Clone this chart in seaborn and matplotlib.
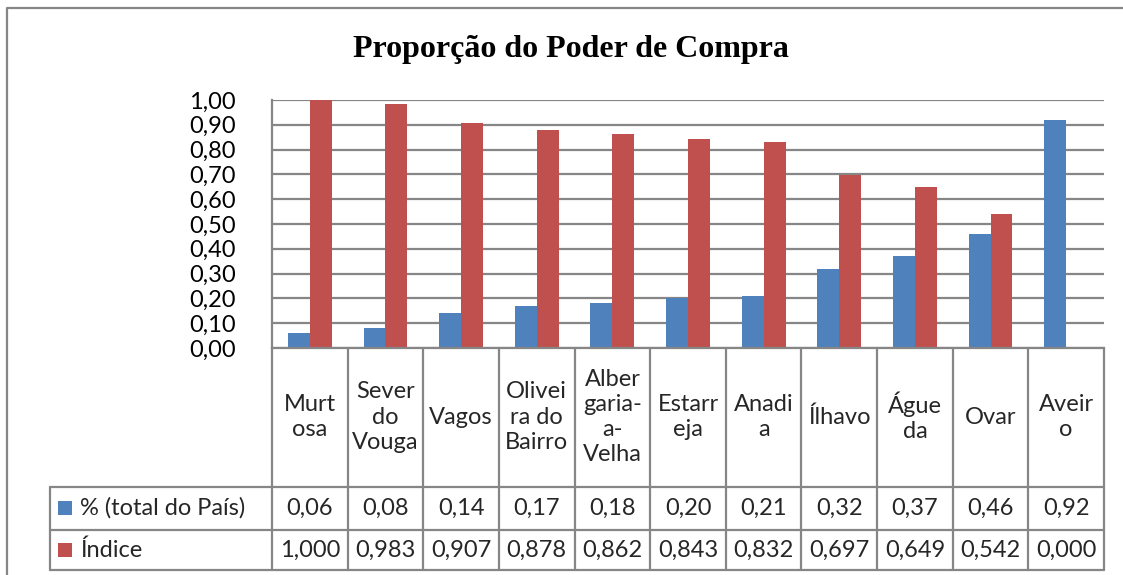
import matplotlib
matplotlib.use('Agg')
import matplotlib.pyplot as plt
import matplotlib.transforms as mtransforms
from matplotlib.lines import Line2D
from matplotlib.patches import Rectangle
import pandas as pd
import seaborn as sns

# -----------------------------
# Data
# -----------------------------
municipios = ["Murt\nosa", "Sever\ndo\nVouga", "Vagos", "Olivei\nra do\nBairro",
              "Alber\ngaria-\na-\nVelha", "Estarr\neja", "Anadi\na", "Ílhavo",
              "Águe\nda", "Ovar", "Aveir\no"]
pct_total = [0.06, 0.08, 0.14, 0.17, 0.18, 0.20, 0.21, 0.32, 0.37, 0.46, 0.92]
indice = [1.000, 0.983, 0.907, 0.878, 0.862, 0.843, 0.832, 0.697, 0.649, 0.542, 0.000]
series_names = ["% (total do País)", "Índice"]
colors = ["#4F81BD", "#C0504D"]
title = "Proporção do Poder de Compra"

df = pd.DataFrame({
    "Município": municipios * 2,
    "Valor": pct_total + indice,
    "Série": [series_names[0]] * len(municipios) + [series_names[1]] * len(municipios),
})

# -----------------------------
# Figure
# -----------------------------
W, H = 1123, 575
FS = 17
sns.set_theme(style="white")
plt.rcParams['font.family'] = ['Lato', 'DejaVu Sans']

def fx(px):
    return px / W

def fy(py):
    return 1 - py / H

fig = plt.figure(figsize=(W / 100, H / 100), dpi=100)
ax = fig.add_axes([fx(272), fy(348), fx(1104) - fx(272), fy(100) - fy(348)])

sns.barplot(data=df, x="Município", y="Valor", hue="Série", palette=colors,
            width=0.58, gap=0, saturation=1, edgecolor="none",
            legend=False, ax=ax)

grey = "#868686"
ax.set_xlim(-0.5, len(municipios) - 0.5)
ax.set_ylim(0, 1.0)
yt = [i / 10 for i in range(11)]
ax.set_yticks(yt)
ax.set_yticklabels([f"{v:.2f}".replace(".", ",") for v in yt], fontsize=FS)
ax.set_xticks([])
ax.set_xlabel("")
ax.set_ylabel("")
ax.tick_params(axis="y", length=0, pad=26, colors="black")
ax.set_axisbelow(True)
ax.yaxis.grid(True, color=grey, linewidth=1.6)
for s in ["top", "right"]:
    ax.spines[s].set_visible(False)
for s in ["left", "bottom"]:
    ax.spines[s].set_color(grey)
    ax.spines[s].set_linewidth(1.6)

# -----------------------------
# Data table below the axis
# -----------------------------
trans = mtransforms.blended_transform_factory(ax.transData, fig.transFigure)
n = len(municipios)

def fig_line(xs, ys, transform):
    fig.add_artist(Line2D(xs, ys, transform=transform, color=grey,
                          linewidth=1.6, clip_on=False))

for i in range(n + 1):
    fig_line([i - 0.5, i - 0.5], [fy(348), fy(570)], trans)
for py in [487, 530, 570]:
    fig_line([fx(50), fx(1104)], [fy(py), fy(py)], fig.transFigure)
fig_line([fx(50), fx(50)], [fy(487), fy(570)], fig.transFigure)

for i, name in enumerate(municipios):
    fig.text(i, fy(417), name, transform=trans, ha="center", va="center",
             fontsize=FS, linespacing=1.25)
    fig.text(i, fy(508), f"{pct_total[i]:.2f}".replace(".", ","), transform=trans,
             ha="center", va="center", fontsize=FS)
    fig.text(i, fy(550), f"{indice[i]:.3f}".replace(".", ","), transform=trans,
             ha="center", va="center", fontsize=FS)

for label, col, py in zip(series_names, colors, [508, 550]):
    fig.add_artist(Rectangle((fx(58), fy(py + 7)), fx(14), fy(py - 7) - fy(py + 7),
                             transform=fig.transFigure, facecolor=col, edgecolor="none"))
    fig.text(fx(80), fy(py), label, ha="left", va="center", fontsize=FS)

# outer chart frame (cropped on right and bottom)
fig_line([fx(7), fx(7), fx(W)], [0, fy(8), fy(8)], fig.transFigure)

fig.text(fx(571), fy(50), title, ha="center", va="center", fontsize=23,
         fontweight="bold", color="black", family=["Liberation Serif", "DejaVu Serif"])

fig.savefig("out.png", dpi=100)
plt.close(fig)
